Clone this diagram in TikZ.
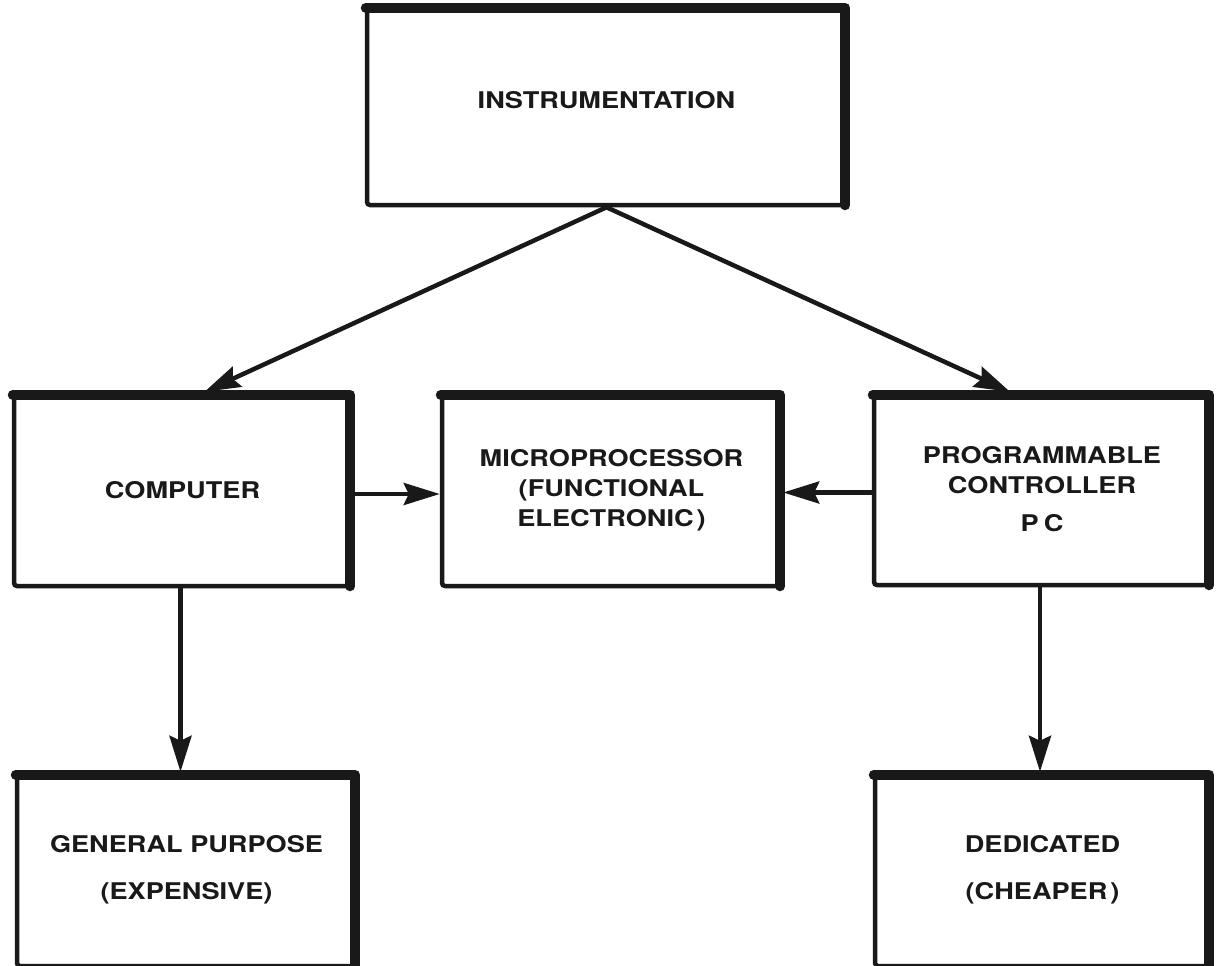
\documentclass[tikz,border=0pt]{standalone}
\usepackage{fontspec}
\setmainfont{TeX Gyre Heros}[FakeStretch=1.18]
\usetikzlibrary{arrows.meta}
\definecolor{ink}{gray}{0.1}
\newcommand\labelfont{\fontsize{23}{30}\selectfont\bfseries}
\tikzset{
  box/.style={draw=ink, line width=4.5pt, rounded corners=3pt, inner sep=0pt,
    align=center, font=\labelfont, text=ink},
  heavy/.style={draw=ink, line width=10pt, line join=round, line cap=round},
  link/.style={draw=ink, line width=4.5pt,
    -{Stealth[length=36pt,width=22pt,inset=5pt]}},
}
\begin{document}
\begin{tikzpicture}[x=1pt,y=-1pt]
  \useasboundingbox (0,0) rectangle (1216,966);
  \clip (0,0) rectangle (1216,966);
  \fill[white] (0,0) rectangle (1216,966);

  % blocks
  \node[box, minimum width=479pt, minimum height=198pt, text depth=12pt] (inst) at (606.5,106)
    {INSTRUMENTATION};
  \node[box, minimum width=337pt, minimum height=192pt] (comp) at (182.5,490) {COMPUTER};
  \node[box, minimum width=339pt, minimum height=192pt] (micro) at (611.5,490)
    {MICROPROCESSOR\\(FUNCTIONAL\\ELECTRONIC\kern3pt)};
  \node[box, minimum width=336pt, minimum height=191pt] (pc) at (1042,489.5)
    {PROGRAMMABLE\\CONTROLLER\\[8pt]P\kern5pt C};
  \node[box, minimum width=339pt, minimum height=192pt] (gp) at (186.5,870)
    {GENERAL PURPOSE\\[17pt](EXPENSIVE)};
  \node[box, minimum width=335pt, minimum height=192pt] (ded) at (1042.5,870)
    {DEDICATED\\[17pt](CHEAPER\kern3pt)};

  % heavy top and right edges of every block
  \foreach \n in {inst,comp,micro,pc,gp,ded}{
    \draw[heavy] ([xshift=1pt,yshift=-3pt]\n.north west)
      -- ([xshift=-3pt,yshift=-3pt]\n.north east)
      -- ([xshift=-3pt,yshift=2pt]\n.south east);
  }

  % connectors
  \draw[link] (inst.south) -- ([xshift=22pt]comp.north);
  \draw[link] (inst.south) -- ([xshift=-32pt]pc.north);
  \draw[link] ([yshift=-4pt]comp.east) -- ([yshift=-4pt]comp.east -| micro.west);
  \draw[link] ([yshift=-3pt]pc.west) -- ([yshift=-3pt]pc.west -| micro.east);
  \draw[link] ([xshift=-2pt]comp.south) -- ([xshift=-2pt]comp.south |- gp.north);
  \draw[link] ([xshift=-2pt]pc.south) -- ([xshift=-2pt]pc.south |- ded.north);
\end{tikzpicture}
\end{document}
